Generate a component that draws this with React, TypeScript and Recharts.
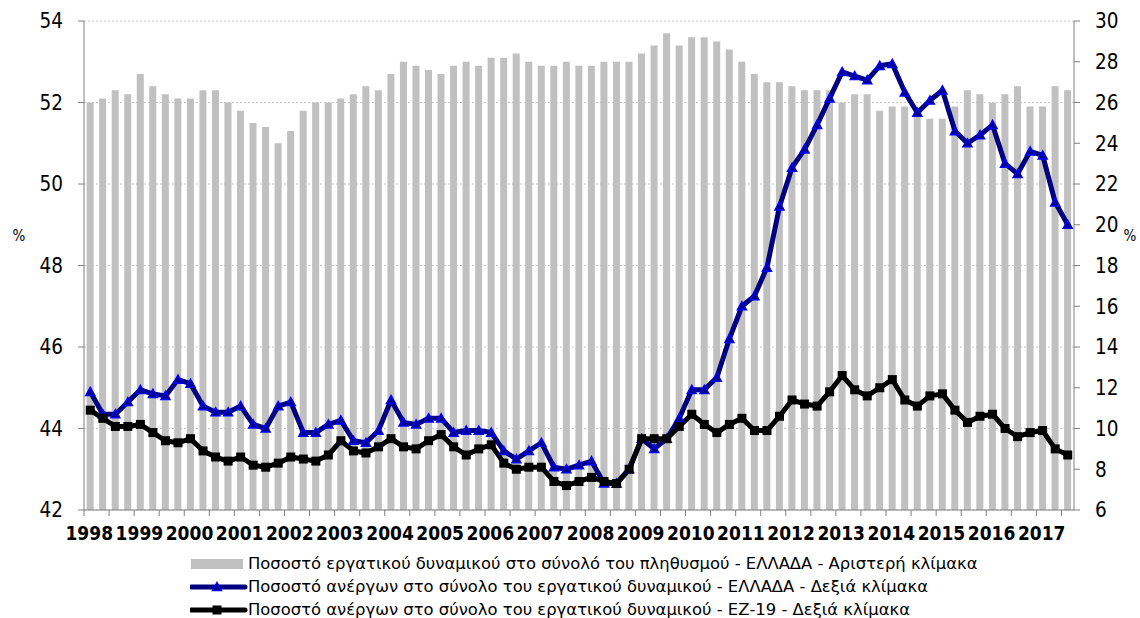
import React from 'react';
import { ComposedChart, Bar, Line, XAxis, YAxis, CartesianGrid, Legend } from 'recharts';

const years = ['1998','1999','2000','2001','2002','2003','2004','2005','2006','2007','2008','2009','2010','2011','2012','2013','2014','2015','2016','2017'];
const quarterNames = ['Q1','Q2','Q3','Q4'];

// Labour force participation rate, Greece (left axis)
const participationGR = [
  52.0, 52.1, 52.3, 52.2, 52.7, 52.4, 52.2, 52.1, 52.1, 52.3, 52.3, 52.0, 51.8, 51.5, 51.4, 51.0, 51.3, 51.8, 52.0, 52.0,
  52.1, 52.2, 52.4, 52.3, 52.7, 53.0, 52.9, 52.8, 52.7, 52.9, 53.0, 52.9, 53.1, 53.1, 53.2, 53.0, 52.9, 52.9, 53.0, 52.9,
  52.9, 53.0, 53.0, 53.0, 53.2, 53.4, 53.7, 53.4, 53.6, 53.6, 53.5, 53.3, 53.0, 52.7, 52.5, 52.5, 52.4, 52.3, 52.3, 52.3,
  52.0, 52.2, 52.2, 51.8, 51.9, 51.9, 51.8, 51.6, 51.6, 51.9, 52.3, 52.2, 52.0, 52.2, 52.4, 51.9, 51.9, 52.4, 52.3,
];

// Unemployment rate, Greece (right axis)
const unemploymentGR = [
  11.8, 10.7, 10.7, 11.3, 11.9, 11.7, 11.6, 12.4, 12.2, 11.1, 10.8, 10.8, 11.1, 10.2, 10.0, 11.1, 11.3, 9.8, 9.8, 10.2,
  10.4, 9.4, 9.3, 9.9, 11.4, 10.3, 10.2, 10.5, 10.5, 9.8, 9.9, 9.9, 9.8, 8.9, 8.5, 8.9, 9.3, 8.1, 8.0, 8.2,
  8.4, 7.3, 7.3, 8.0, 9.5, 9.0, 9.5, 10.5, 11.9, 11.9, 12.5, 14.4, 16.0, 16.5, 17.9, 20.9, 22.8, 23.7, 24.9, 26.2,
  27.5, 27.3, 27.1, 27.8, 27.9, 26.5, 25.5, 26.1, 26.6, 24.6, 24.0, 24.4, 24.9, 23.0, 22.5, 23.6, 23.4, 21.1, 20.0,
];

// Unemployment rate, EZ-19 (right axis)
const unemploymentEZ = [
  10.9, 10.5, 10.1, 10.1, 10.2, 9.8, 9.4, 9.3, 9.5, 8.9, 8.6, 8.4, 8.6, 8.2, 8.1, 8.3, 8.6, 8.5, 8.4, 8.7,
  9.4, 8.9, 8.8, 9.1, 9.5, 9.1, 9.0, 9.4, 9.7, 9.1, 8.7, 9.0, 9.2, 8.3, 8.0, 8.1, 8.1, 7.4, 7.2, 7.4,
  7.6, 7.4, 7.3, 8.0, 9.5, 9.5, 9.5, 10.1, 10.7, 10.2, 9.8, 10.2, 10.5, 9.9, 9.9, 10.6, 11.4, 11.2, 11.1, 11.8,
  12.6, 11.9, 11.6, 12.0, 12.4, 11.4, 11.1, 11.6, 11.7, 10.9, 10.3, 10.6, 10.7, 10.0, 9.6, 9.8, 9.9, 9.0, 8.7,
];

const leftTicks = [42, 44, 46, 48, 50, 52, 54];
const rightTicks = [6, 8, 10, 12, 14, 16, 18, 20, 22, 24, 26, 28, 30];

const legendLabels = [
  'Ποσοστό εργατικού δυναμικού στο σύνολό του πληθυσμού - ΕΛΛΑΔΑ - Αριστερή κλίμακα',
  'Ποσοστό ανέργων στο σύνολο του εργατικού δυναμικού - ΕΛΛΑΔΑ - Δεξιά κλίμακα',
  'Ποσοστό ανέργων στο σύνολο του εργατικού δυναμικού - ΕΖ-19 - Δεξιά κλίμακα',
];

const categories: string[] = [];
years.forEach((y) => quarterNames.forEach((q) => categories.push(`${y} ${q}`)));

const data = participationGR.map((v, i) => ({
  q: categories[i],
  part: v,
  gr: unemploymentGR[i],
  ez: unemploymentEZ[i],
}));

const FONT = '"DejaVu Sans Condensed", "DejaVu Sans", Tahoma, sans-serif';
const FONT_WIDE = '"DejaVu Sans", Tahoma, sans-serif';
const AXIS_COLOR = '#808080';
const BAR_COLOR = '#C0C0C0';
const NAVY = '#000080';
const BLUE = '#0000FF';

const YearTick = (props: any) => {
  const { x, y, payload, index } = props;
  const half = payload && typeof payload.offset === 'number' && payload.offset > 0 ? payload.offset : 990 / 79 / 2;
  const axisY = y - 8;
  const i = index;
  return (
    <g>
      {i % 2 === 0 && (
        <line x1={x - half} x2={x - half} y1={axisY} y2={axisY + 6} stroke={AXIS_COLOR} strokeWidth={1} />
      )}
      {i % 4 === 0 && (
        <text
          x={x - 1}
          y={axisY + 30}
          textAnchor="middle"
          fontWeight="bold"
          fontSize={19}
          fontFamily={FONT}
          style={{ fontStretch: 'condensed' }}
          fill="#000"
        >
          {years[i / 4]}
        </text>
      )}
    </g>
  );
};

const TriangleDot = (p: any) => {
  const { cx, cy } = p;
  if (cx == null || cy == null) return <g />;
  const s = 4.5;
  return (
    <polygon
      points={`${cx},${cy - s} ${cx + s},${cy + s * 0.8} ${cx - s},${cy + s * 0.8}`}
      fill={NAVY}
      stroke={BLUE}
      strokeWidth={1.5}
    />
  );
};

const SquareDot = (p: any) => {
  const { cx, cy } = p;
  if (cx == null || cy == null) return <g />;
  return <rect x={cx - 4.5} y={cy - 4.5} width={9} height={9} fill="#000" />;
};

const LegendContent = () => (
  <div style={{ fontFamily: FONT_WIDE, fontSize: 16.4, color: '#000', lineHeight: '23px' }}>
    {legendLabels.map((label, i) => (
      <div key={i} style={{ display: 'flex', alignItems: 'center', height: 23, whiteSpace: 'nowrap' }}>
        <svg width={58} height={14} style={{ flex: 'none' }}>
          {i === 0 && <rect x={1} y={2} width={52} height={10} fill={BAR_COLOR} />}
          {i === 1 && (
            <g>
              <line x1={1} x2={55} y1={7} y2={7} stroke={NAVY} strokeWidth={5} strokeLinecap="round" />
              <polygon points="27,2.5 31.5,10.6 22.5,10.6" fill={NAVY} stroke={BLUE} strokeWidth={1.5} />
            </g>
          )}
          {i === 2 && (
            <g>
              <line x1={1} x2={55} y1={7} y2={7} stroke="#000" strokeWidth={5} strokeLinecap="round" />
              <rect x={22.5} y={2.5} width={9} height={9} fill="#000" />
            </g>
          )}
        </svg>
        <span>{label}</span>
      </div>
    ))}
  </div>
);

const PctLabel = (side: 'left' | 'right') => (props: any) => {
  const vb = props.viewBox || {};
  const x = side === 'left' ? (vb.x ?? 0) + 19 : (vb.x ?? 1074) + 56;
  return (
    <text x={x} y={241} textAnchor="middle" fontSize={15} fontFamily={FONT} fill="#000">
      %
    </text>
  );
};

export default function App() {
  return (
    <div style={{ position: 'absolute', left: 0, top: 0, width: 1140, height: 618, background: '#fff' }}>
      <ComposedChart
        width={1140}
        height={618}
        data={data}
        margin={{ top: 21, right: 0, left: 0, bottom: 78 }}
        barCategoryGap="21%"
      >
        <CartesianGrid yAxisId="L" vertical={false} horizontal stroke="#C8C8C8" strokeDasharray="2 2" />
        <XAxis
          dataKey="q"
          interval={0}
          height={30}
          tickLine={false}
          tickSize={6}
          tickMargin={2}
          axisLine={{ stroke: AXIS_COLOR }}
          tick={<YearTick />}
        />
        <YAxis
          yAxisId="L"
          orientation="left"
          width={84}
          domain={[42, 54]}
          ticks={leftTicks}
          interval={0}
          allowDataOverflow
          tickSize={6}
          tickMargin={15}
          axisLine={{ stroke: AXIS_COLOR }}
          tickLine={{ stroke: AXIS_COLOR }}
          tick={{ fontSize: 20.5, fill: '#000', fontFamily: FONT, style: { fontStretch: 'condensed' } }}
          label={{ content: PctLabel('left') }}
        />
        <YAxis
          yAxisId="R"
          orientation="right"
          width={66}
          domain={[6, 30]}
          ticks={rightTicks}
          interval={0}
          allowDataOverflow
          tickSize={6}
          tickMargin={15}
          axisLine={{ stroke: AXIS_COLOR }}
          tickLine={{ stroke: AXIS_COLOR }}
          tick={{ fontSize: 20.5, fill: '#000', fontFamily: FONT, style: { fontStretch: 'condensed' } }}
          label={{ content: PctLabel('right') }}
        />
        <Legend
          layout="horizontal"
          verticalAlign="middle"
          align="center"
          content={<LegendContent />}
          wrapperStyle={{ top: 552, left: 190, width: 940, height: 69 }}
        />
        <Bar yAxisId="L" dataKey="part" fill={BAR_COLOR} isAnimationActive={false} />
        <Line
          yAxisId="R"
          dataKey="gr"
          stroke={NAVY}
          strokeWidth={5}
          strokeLinejoin="round"
          dot={TriangleDot}
          activeDot={false}
          isAnimationActive={false}
        />
        <Line
          yAxisId="R"
          dataKey="ez"
          stroke="#000"
          strokeWidth={5}
          strokeLinejoin="round"
          dot={SquareDot}
          activeDot={false}
          isAnimationActive={false}
        />
      </ComposedChart>
    </div>
  );
}
